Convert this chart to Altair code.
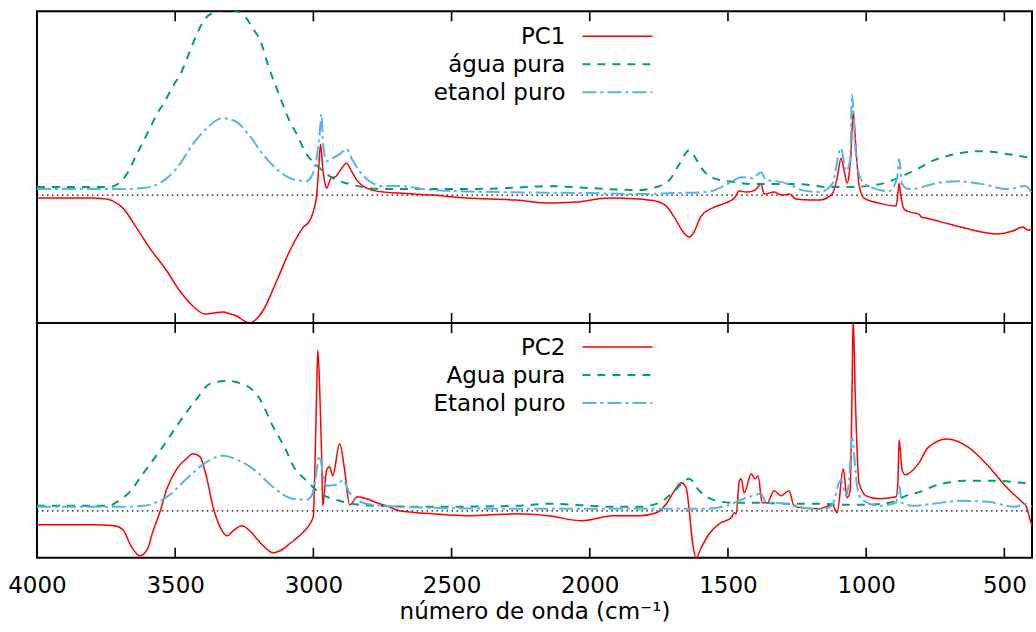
import altair as alt
import pandas as pd

# ---------------- data ----------------
ticks_wn = [4000, 3500, 3000, 2500, 2000, 1500, 1000, 500]

pc1_wn = [4000, 3800, 3750, 3725, 3689, 3639, 3592, 3530, 3483, 3436, 3393, 3360, 3328, 3300,
          3277, 3250, 3230, 3210, 3183, 3133, 3086, 3039, 3010, 2998, 2988, 2980, 2974, 2966,
          2958, 2952, 2934, 2923, 2905, 2880, 2862, 2843, 2807, 2771, 2688, 2569, 2446, 2265,
          2150, 2050, 1933, 1821, 1788, 1760, 1723, 1690, 1665, 1640, 1625, 1597, 1557, 1510,
          1477, 1459, 1430, 1402, 1380, 1369, 1333, 1304, 1279, 1253, 1200, 1170, 1123, 1105,
          1091, 1080, 1069, 1062, 1055, 1047, 1037, 1026, 1008, 953, 892, 885, 881, 875, 863,
          840, 809, 800, 784, 700, 643, 523, 470, 433, 415, 400]
pc1_val = [-0.03, -0.03, -0.04, -0.06, -0.13, -0.33, -0.53, -0.76, -0.96, -1.11, -1.19, -1.18,
           -1.17, -1.19, -1.21, -1.26, -1.28, -1.25, -1.16, -0.86, -0.56, -0.33, -0.24, -0.14,
           0.0, 0.30, 0.51, 0.27, 0.12, 0.07, 0.18, 0.18, 0.24, 0.32, 0.24, 0.15, 0.07, 0.04,
           0.02, 0.0, -0.03, -0.05, -0.08, -0.07, -0.03, -0.04, -0.05, -0.06, -0.11, -0.24,
           -0.36, -0.42, -0.38, -0.21, -0.13, -0.08, -0.03, 0.04, 0.03, 0.05, 0.11, 0.01, 0.03,
           0.0, 0.01, -0.04, -0.05, -0.05, 0.01, 0.17, 0.37, 0.25, 0.12, 0.20, 0.41, 0.84, 0.47,
           0.11, -0.03, -0.08, -0.11, 0.02, 0.12, 0.0, -0.14, -0.17, -0.19, -0.22, -0.23, -0.29,
           -0.33, -0.39, -0.36, -0.32, -0.35, -0.34]

agua1_wn = [4000, 3740, 3715, 3695, 3675, 3639, 3602, 3566, 3537, 3508, 3476, 3447, 3422, 3393,
            3349, 3318, 3290, 3255, 3219, 3187, 3165, 3133, 3115, 3086, 3060, 3031, 2977, 2930,
            2869, 2797, 2735, 2500, 2300, 2150, 2000, 1821, 1774, 1712, 1676, 1640, 1611, 1593,
            1542, 1477, 1412, 1340, 1253, 1196, 1145, 1073, 1000, 935, 870, 809, 762, 679, 581,
            487, 400]
agua1_val = [0.08, 0.08, 0.10, 0.14, 0.21, 0.41, 0.61, 0.81, 0.94, 1.09, 1.24, 1.44, 1.61, 1.76,
             1.84, 1.86, 1.85, 1.81, 1.67, 1.51, 1.31, 1.07, 0.94, 0.74, 0.61, 0.44, 0.27, 0.17,
             0.11, 0.07, 0.06, 0.06, 0.07, 0.09, 0.07, 0.05, 0.07, 0.15, 0.31, 0.45, 0.34, 0.26,
             0.16, 0.13, 0.11, 0.11, 0.11, 0.10, 0.08, 0.08, 0.09, 0.12, 0.19, 0.27, 0.34, 0.41,
             0.44, 0.41, 0.37]

etanol1_wn = [4000, 3700, 3617, 3555, 3494, 3436, 3386, 3328, 3277, 3230, 3183, 3133, 3075, 3024,
              3003, 2988, 2978, 2970, 2966, 2952, 2930, 2905, 2880, 2862, 2833, 2797, 2750, 2688,
              2569, 2327, 2000, 1821, 1701, 1579, 1495, 1452, 1412, 1380, 1362, 1326, 1279, 1232,
              1170, 1123, 1091, 1073, 1058, 1051, 1040, 1033, 1015, 964, 917, 888, 881, 870, 845,
              809, 787, 668, 581, 487, 426, 400]
etanol1_val = [0.06, 0.06, 0.07, 0.12, 0.27, 0.51, 0.67, 0.77, 0.73, 0.59, 0.41, 0.26, 0.16, 0.14,
               0.21, 0.37, 0.60, 0.81, 0.54, 0.34, 0.37, 0.41, 0.46, 0.37, 0.24, 0.14, 0.09, 0.09,
               0.05, 0.03, 0.02, 0.01, 0.02, 0.03, 0.12, 0.18, 0.17, 0.23, 0.15, 0.14, 0.11, 0.05,
               0.03, 0.11, 0.47, 0.24, 0.35, 1.01, 0.50, 0.31, 0.14, 0.06, 0.04, 0.17, 0.36, 0.11,
               0.06, 0.07, 0.09, 0.14, 0.11, 0.06, 0.09, 0.02]

pc2_wn = [4000, 3800, 3720, 3689, 3660, 3628, 3600, 3581, 3555, 3530, 3494, 3460, 3436, 3410,
          3385, 3364, 3330, 3313, 3290, 3259, 3230, 3205, 3170, 3147, 3120, 3086, 3039, 3010,
          3000, 2995, 2988, 2984, 2977, 2970, 2966, 2952, 2941, 2930, 2905, 2887, 2869, 2840,
          2807, 2771, 2735, 2688, 2569, 2446, 2265, 2150, 2027, 1918, 1821, 1759, 1723, 1694,
          1669, 1651, 1640, 1629, 1615, 1597, 1568, 1532, 1488, 1477, 1470, 1459, 1452, 1441,
          1416, 1402, 1391, 1376, 1358, 1333, 1308, 1279, 1261, 1232, 1170, 1123, 1105, 1083,
          1069, 1058, 1051, 1047, 1040, 1026, 1000, 953, 892, 885, 881, 870, 859, 809, 777, 708,
          632, 559, 487, 437, 420, 408, 400]
pc2_val = [-0.14, -0.14, -0.15, -0.19, -0.35, -0.45, -0.38, -0.21, -0.01, 0.22, 0.42, 0.52, 0.57,
           0.54, 0.32, 0.05, -0.20, -0.25, -0.20, -0.15, -0.20, -0.28, -0.38, -0.42, -0.40, -0.33,
           -0.22, -0.12, -0.05, 0.38, 1.21, 1.61, 1.21, 0.55, 0.05, 0.41, 0.44, 0.35, 0.67, 0.41,
           0.06, 0.14, 0.12, 0.08, 0.05, 0.0, -0.03, -0.05, -0.03, -0.05, -0.10, -0.05, -0.05,
           -0.02, 0.07, 0.20, 0.28, 0.23, 0.0, -0.30, -0.47, -0.37, -0.23, -0.13, -0.07, -0.02,
           -0.03, 0.30, 0.32, 0.18, 0.37, 0.32, 0.35, 0.08, 0.08, 0.20, 0.15, 0.20, 0.05, 0.03,
           0.02, 0.06, -0.02, 0.42, 0.13, 0.20, 1.21, 1.95, 1.21, 0.28, 0.15, 0.12, 0.14, 0.30,
           0.71, 0.41, 0.36, 0.48, 0.63, 0.72, 0.64, 0.45, 0.22, 0.09, 0.04, -0.08, -0.15]

agua2_wn = [4000, 3740, 3711, 3664, 3617, 3545, 3494, 3422, 3375, 3313, 3241, 3194, 3147, 3096,
            3075, 3024, 2977, 2905, 2833, 2771, 2569, 2265, 2150, 1907, 1821, 1748, 1701, 1640,
            1604, 1542, 1477, 1398, 1279, 1181, 1073, 1000, 917, 856, 784, 762, 643, 523, 437, 400]
agua2_val = [0.05, 0.05, 0.09, 0.19, 0.37, 0.64, 0.85, 1.12, 1.27, 1.30, 1.25, 1.12, 0.85, 0.59,
             0.46, 0.30, 0.18, 0.10, 0.06, 0.05, 0.04, 0.05, 0.07, 0.04, 0.04, 0.08, 0.18, 0.32,
             0.20, 0.10, 0.08, 0.08, 0.07, 0.07, 0.06, 0.06, 0.08, 0.15, 0.21, 0.24, 0.30, 0.30,
             0.28, 0.27]

etanol2_wn = [4000, 3700, 3617, 3530, 3447, 3386, 3328, 3266, 3205, 3147, 3075, 3024, 3006, 2995,
              2977, 2966, 2952, 2916, 2905, 2894, 2869, 2843, 2786, 2569, 2265, 1788, 1579, 1506,
              1434, 1380, 1362, 1326, 1253, 1196, 1149, 1123, 1091, 1073, 1062, 1051, 1040, 1033,
              1015, 953, 892, 881, 870, 831, 762, 654, 559, 462, 426, 400]
etanol2_val = [0.04, 0.04, 0.05, 0.14, 0.35, 0.49, 0.55, 0.50, 0.39, 0.24, 0.12, 0.11, 0.15, 0.28,
               0.55, 0.38, 0.25, 0.26, 0.28, 0.31, 0.18, 0.11, 0.06, 0.03, 0.02, 0.02, 0.02, 0.05,
               0.13, 0.17, 0.08, 0.08, 0.05, 0.02, 0.02, 0.06, 0.31, 0.15, 0.30, 0.73, 0.45, 0.25,
               0.11, 0.05, 0.08, 0.25, 0.08, 0.05, 0.07, 0.10, 0.09, 0.04, 0.07, 0.04]

top_labels = ["PC1", "água pura", "etanol puro"]
bottom_labels = ["PC2", "Agua pura", "Etanol puro"]

# ---------------- styling ----------------
FONT = "DejaVu Sans"
W = 996
H_TOP = 312
H_BOT = 235
RED, GREEN, BLUE = "#ff0000", "#009e73", "#56b4e9"
STYLES = [
    dict(color=RED, strokeWidth=1.5),
    dict(color=GREEN, strokeWidth=2, strokeDash=[8, 7]),
    dict(color=BLUE, strokeWidth=2, strokeDash=[14, 4, 3, 4]),
]
xscale = alt.Scale(domain=[400, 4000], reverse=True, nice=False, zero=False)


def panel(series, labels, ydomain, height, show_axis):
    if show_axis:
        xaxis = alt.Axis(values=ticks_wn, format="d", ticks=False, domain=False, grid=False,
                         labelFontSize=23, labelColor="black", labelFont=FONT,
                         labelPadding=17, labelFlush=False, labelOverlap=False,
                         title="número de onda (cm⁻¹)", titleFontSize=23,
                         titleFontWeight="normal", titleColor="black", titleFont=FONT,
                         titlePadding=3)
    else:
        xaxis = None
    X = alt.X("wn:Q", scale=xscale, axis=xaxis)
    yscale = alt.Scale(domain=ydomain, nice=False, zero=False)
    layers = []
    # zero reference line
    layers.append(
        alt.Chart(pd.DataFrame({"wn": [4000, 400], "v": [0.0, 0.0]}))
        .mark_line(color="black", strokeWidth=1.3, strokeDash=[1.5, 3.5])
        .encode(x=X, y=alt.Y("v:Q", scale=yscale, axis=None))
    )
    # spectra
    for (wn, val), st in zip(series, STYLES):
        df = pd.DataFrame({"wn": wn, "v": val})
        layers.append(
            alt.Chart(df)
            .mark_line(clip=True, interpolate="monotone", **st)
            .encode(x=X, y=alt.Y("v:Q", scale=yscale, axis=None),
                    order=alt.Order("wn:Q", sort="descending"))
        )
    # inward ticks on top and bottom borders
    tdf = pd.DataFrame({"wn": ticks_wn})
    layers.append(alt.Chart(tdf).mark_rule(color="black", strokeWidth=1.6)
                  .encode(x=X, y=alt.value(0), y2=alt.value(10)))
    layers.append(alt.Chart(tdf).mark_rule(color="black", strokeWidth=1.6)
                  .encode(x=X, y=alt.value(height - 10), y2=alt.value(height)))
    # legend (key text right-aligned, sample line to its right)
    for i, (lab, st) in enumerate(zip(labels, STYLES)):
        ly = 25 + 28 * i if height == H_TOP else 24 + 28 * i
        one = pd.DataFrame({"label": [lab]})
        layers.append(
            alt.Chart(one).mark_text(align="right", baseline="middle", fontSize=23,
                                     font=FONT, color="black")
            .encode(text="label:N", x=alt.value(529), y=alt.value(ly + 1))
        )
        layers.append(
            alt.Chart(one).mark_rule(**st)
            .encode(x=alt.value(546), x2=alt.value(616), y=alt.value(ly))
        )
    return alt.layer(*layers).properties(width=W, height=height)


top = panel([(pc1_wn, pc1_val), (agua1_wn, agua1_val), (etanol1_wn, etanol1_val)],
            top_labels, [-1.28, 1.84], H_TOP, False)
bottom = panel([(pc2_wn, pc2_val), (agua2_wn, agua2_val), (etanol2_wn, etanol2_val)],
               bottom_labels, [-0.47, 1.88], H_BOT, True)

chart = (
    alt.vconcat(top, bottom, spacing=0, bounds="flush")
    .properties(padding={"left": 6, "top": 9, "right": 0, "bottom": 0})
    .configure(font=FONT, background="white")
    .configure_view(stroke="black", strokeWidth=2)
)

chart.save("out.html", embed_options={"renderer": "svg", "actions": False})
